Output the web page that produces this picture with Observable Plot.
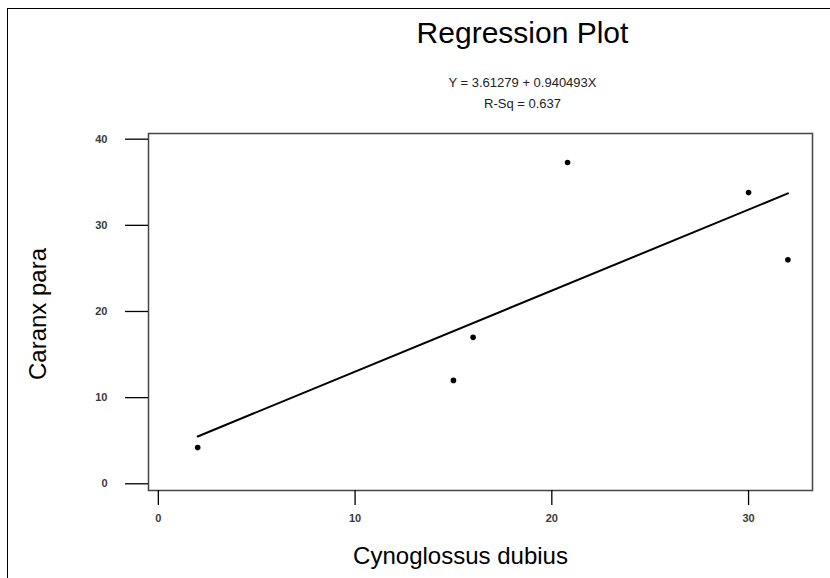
<!DOCTYPE html>
<html>
<head>
<meta charset="utf-8">
<script src="https://cdn.jsdelivr.net/npm/d3@7"></script>
<script src="https://cdn.jsdelivr.net/npm/@observablehq/plot@0.6"></script>
<style>
  html, body { margin: 0; padding: 0; background: #fff; }
  #wrap { position: relative; width: 830px; height: 578px; overflow: hidden; }
  #border { position: absolute; left: 7px; top: 8px; right: -4px; bottom: -4px; border-top: 1.5px solid #000; border-left: 1.5px solid #000; pointer-events: none; }
</style>
</head>
<body>
<div id="wrap"><div id="border"></div></div>
<script>
// Data
const cynoglossus = [2, 15, 16, 20.8, 30, 32];
const caranx = [4.2, 12.0, 17.0, 37.3, 33.8, 26.0];
const intercept = 3.61279;
const slope = 0.940493;
const rSq = 0.637;
const xTicks = [0, 10, 20, 30];
const yTicks = [0, 10, 20, 30, 40];
const titleText = "Regression Plot";
const eqText = `Y = ${intercept} + ${slope}X`;
const rsqText = `R-Sq = ${rSq}`;
const xLabel = "Cynoglossus dubius";
const yLabel = "Caranx para";

const points = cynoglossus.map((x, i) => ({x, y: caranx[i]}));
const xExt = d3.extent(cynoglossus);
const fit = xExt.map(x => ({x, y: intercept + slope * x}));

const font = "'Liberation Sans', Arial, sans-serif";

const chart = Plot.plot({
  width: 830,
  height: 578,
  marginLeft: 148,
  marginRight: 18,
  marginTop: 133,
  marginBottom: 88,
  style: {fontFamily: font, background: "transparent", overflow: "visible"},
  x: {domain: [-0.5, 33.25]},
  y: {domain: [-0.78, 40.66]},
  marks: [
    Plot.frame({stroke: "#444", strokeWidth: 1.5}),
    Plot.axisY(yTicks, {anchor: "left", tickSize: 23, tickPadding: 18, fontSize: 11, fontWeight: "bold", fill: "#3a3a3a", stroke: "#000", strokeWidth: 1.3, label: null}),
    Plot.axisX(xTicks, {anchor: "bottom", tickSize: 15, tickPadding: 9, fontSize: 11, fontWeight: "bold", fill: "#3a3a3a", stroke: "#000", strokeWidth: 1.3, label: null}),
    Plot.line(fit, {x: "x", y: "y", stroke: "#000", strokeWidth: 2}),
    Plot.dot(points, {x: "x", y: "y", r: 2.8, fill: "#000", stroke: "none"}),
    Plot.text([titleText], {frameAnchor: "top", text: d => d, dx: 42, dy: -100, fontSize: 30, fill: "#000", lineAnchor: "middle"}),
    Plot.text([eqText], {frameAnchor: "top", text: d => d, dx: 42, dy: -51, fontSize: 13, fill: "#222", lineAnchor: "middle"}),
    Plot.text([rsqText], {frameAnchor: "top", text: d => d, dx: 42, dy: -29.5, fontSize: 13, fill: "#222", lineAnchor: "middle"}),
    Plot.text([xLabel], {frameAnchor: "bottom", text: d => d, dx: -20, dy: 66, fontSize: 24, fill: "#000", lineAnchor: "middle"}),
    Plot.text([yLabel], {frameAnchor: "left", text: d => d, dx: -110, dy: 2, fontSize: 24, rotate: -90, fill: "#000", textAnchor: "middle", lineAnchor: "middle"})
  ]
});
document.getElementById("wrap").prepend(chart);
</script>
</body>
</html>
